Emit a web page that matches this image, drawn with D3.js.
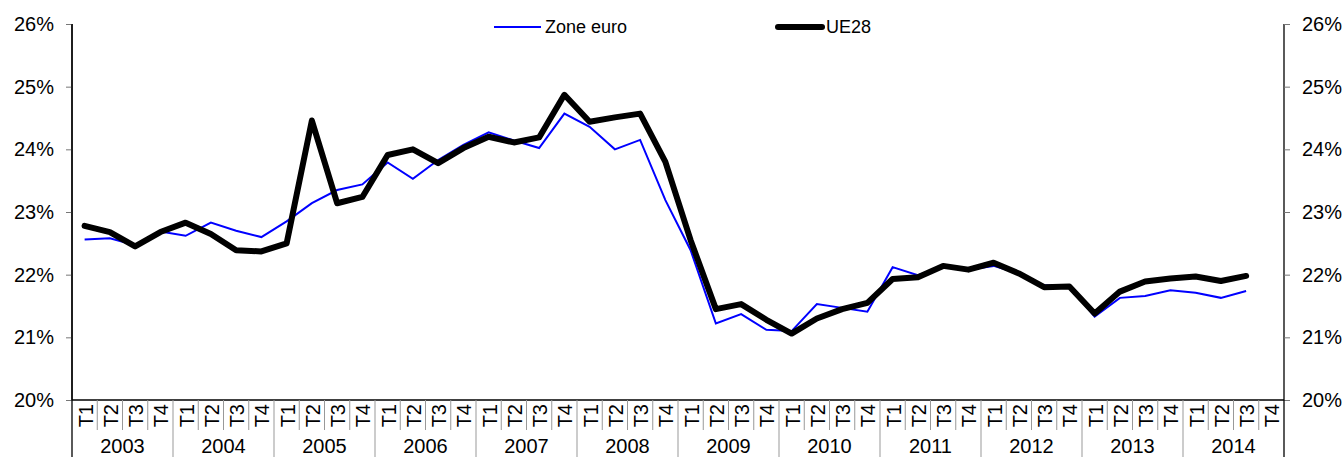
<!DOCTYPE html>
<html>
<head>
<meta charset="utf-8">
<script src="https://cdn.jsdelivr.net/npm/d3@7"></script>
<style>
  body { margin: 0; background: #fff; }
  svg { display: block; font-family: "Liberation Sans", Arial, sans-serif; }
</style>
</head>
<body>
<svg id="chart" width="1344" height="457"></svg>
<script>
// data
const years = ['2003', '2004', '2005', '2006', '2007', '2008', '2009', '2010', '2011', '2012', '2013', '2014'];
const quarters = ['T1', 'T2', 'T3', 'T4'];
const yTicks = [20, 21, 22, 23, 24, 25, 26];

const zoneEuro = [
  22.56, 22.58, 22.47, 22.69, 22.62, 22.83, 22.70, 22.60,
  22.85, 23.14, 23.35, 23.44, 23.79, 23.53, 23.83, 24.07,
  24.27, 24.14, 24.02, 24.57, 24.36, 24.00, 24.15, 23.19,
  22.39, 21.22, 21.37, 21.12, 21.10, 21.53, 21.47, 21.41,
  22.12, 21.99, 22.13, 22.08, 22.14, 22.02, 21.83, 21.82,
  21.33, 21.63, 21.66, 21.75, 21.71, 21.63, 21.74, null
];
const ue28 = [
  22.78, 22.68, 22.45, 22.68, 22.83, 22.65, 22.39, 22.37,
  22.50, 24.46, 23.14, 23.24, 23.91, 24.00, 23.78, 24.02,
  24.20, 24.11, 24.19, 24.87, 24.44, 24.51, 24.57, 23.80,
  22.55, 21.45, 21.53, 21.28, 21.06, 21.30, 21.45, 21.55,
  21.93, 21.96, 22.14, 22.08, 22.19, 22.02, 21.80, 21.81,
  21.38, 21.73, 21.89, 21.94, 21.97, 21.90, 21.98, null
];

const categories = [];
years.forEach(y => quarters.forEach(q => categories.push(y + '-' + q)));

const svg = d3.select('#chart');
const plotLeft = 72, plotRight = 1284, plotTop = 24, plotBottom = 400;

const x = d3.scaleBand().domain(categories).range([plotLeft, plotRight]).padding(0);
const y = d3.scaleLinear().domain([20, 26]).range([plotBottom, plotTop]);
const cx = c => x(c) + x.bandwidth() / 2;

// y axes
const fmt = d => d + '%';
const yLeft = d3.axisLeft(y).tickValues(yTicks).tickFormat(fmt).tickSize(6).tickPadding(12);
const yRight = d3.axisRight(y).tickValues(yTicks).tickFormat(fmt).tickSize(6).tickPadding(12);

const gl = svg.append('g').attr('transform', `translate(${plotLeft},0)`).call(yLeft);
const gr = svg.append('g').attr('transform', `translate(${plotRight},0)`).call(yRight);
[gl, gr].forEach(g => {
  g.select('.domain').attr('d', `M0,${plotTop}V${plotBottom}`).attr('stroke', '#000').attr('stroke-width', 1.3);
  g.selectAll('.tick line').attr('stroke', '#777');
  g.selectAll('.tick text').attr('font-size', 20).attr('fill', '#000')
    .style('font-family', '"Liberation Sans", Arial, sans-serif');
});

// x axis: baseline, quarter separators, year separators
const xg = svg.append('g');
xg.append('line').attr('x1', plotLeft).attr('x2', plotRight).attr('y1', plotBottom).attr('y2', plotBottom)
  .attr('stroke', '#000').attr('stroke-width', 1.3);

categories.forEach((c, i) => {
  if (i % 4 !== 0) {
    xg.append('line').attr('x1', x(c)).attr('x2', x(c)).attr('y1', plotBottom).attr('y2', 430)
      .attr('stroke', '#999').attr('stroke-width', 1);
  }
  xg.append('text')
    .attr('transform', `translate(${cx(c) + 1},404) rotate(-90)`)
    .attr('text-anchor', 'end')
    .attr('dominant-baseline', 'central')
    .attr('font-size', 20)
    .text(quarters[i % 4]);
});

years.forEach((yr, k) => {
  const x0 = x(yr + '-T1');
  const isEdge = k === 0;
  xg.append('line').attr('x1', x0).attr('x2', x0).attr('y1', isEdge ? plotTop : plotBottom).attr('y2', 457)
    .attr('stroke', isEdge ? '#000' : '#999').attr('stroke-width', isEdge ? 1.3 : 1);
  const xm = (x(yr + '-T1') + x(yr + '-T4') + x.bandwidth()) / 2;
  xg.append('text').attr('x', xm).attr('y', 453).attr('text-anchor', 'middle')
    .attr('font-size', 20).text(yr);
});
xg.append('line').attr('x1', plotRight).attr('x2', plotRight).attr('y1', plotBottom).attr('y2', 457)
  .attr('stroke', '#000').attr('stroke-width', 1.3);

// lines
const line = d3.line()
  .defined(d => d.v !== null)
  .x(d => cx(d.c))
  .y(d => y(d.v));

const zeData = categories.map((c, i) => ({ c, v: zoneEuro[i] }));
const ueData = categories.map((c, i) => ({ c, v: ue28[i] }));

svg.append('path').attr('d', line(zeData))
  .attr('fill', 'none').attr('stroke', '#0000ff').attr('stroke-width', 2)
  .attr('stroke-linejoin', 'miter');

svg.append('path').attr('d', line(ueData))
  .attr('fill', 'none').attr('stroke', '#000').attr('stroke-width', 6)
  .attr('stroke-linejoin', 'round').attr('stroke-linecap', 'round');

// legend
const lg = svg.append('g');
lg.append('line').attr('x1', 494).attr('x2', 541).attr('y1', 27).attr('y2', 27)
  .attr('stroke', '#0000ff').attr('stroke-width', 2);
lg.append('text').attr('x', 545).attr('y', 33).attr('font-size', 18).text('Zone euro');
lg.append('line').attr('x1', 778).attr('x2', 822).attr('y1', 27).attr('y2', 27)
  .attr('stroke', '#000').attr('stroke-width', 6).attr('stroke-linecap', 'round');
lg.append('text').attr('x', 826).attr('y', 33).attr('font-size', 18).text('UE28');
</script>
</body>
</html>
